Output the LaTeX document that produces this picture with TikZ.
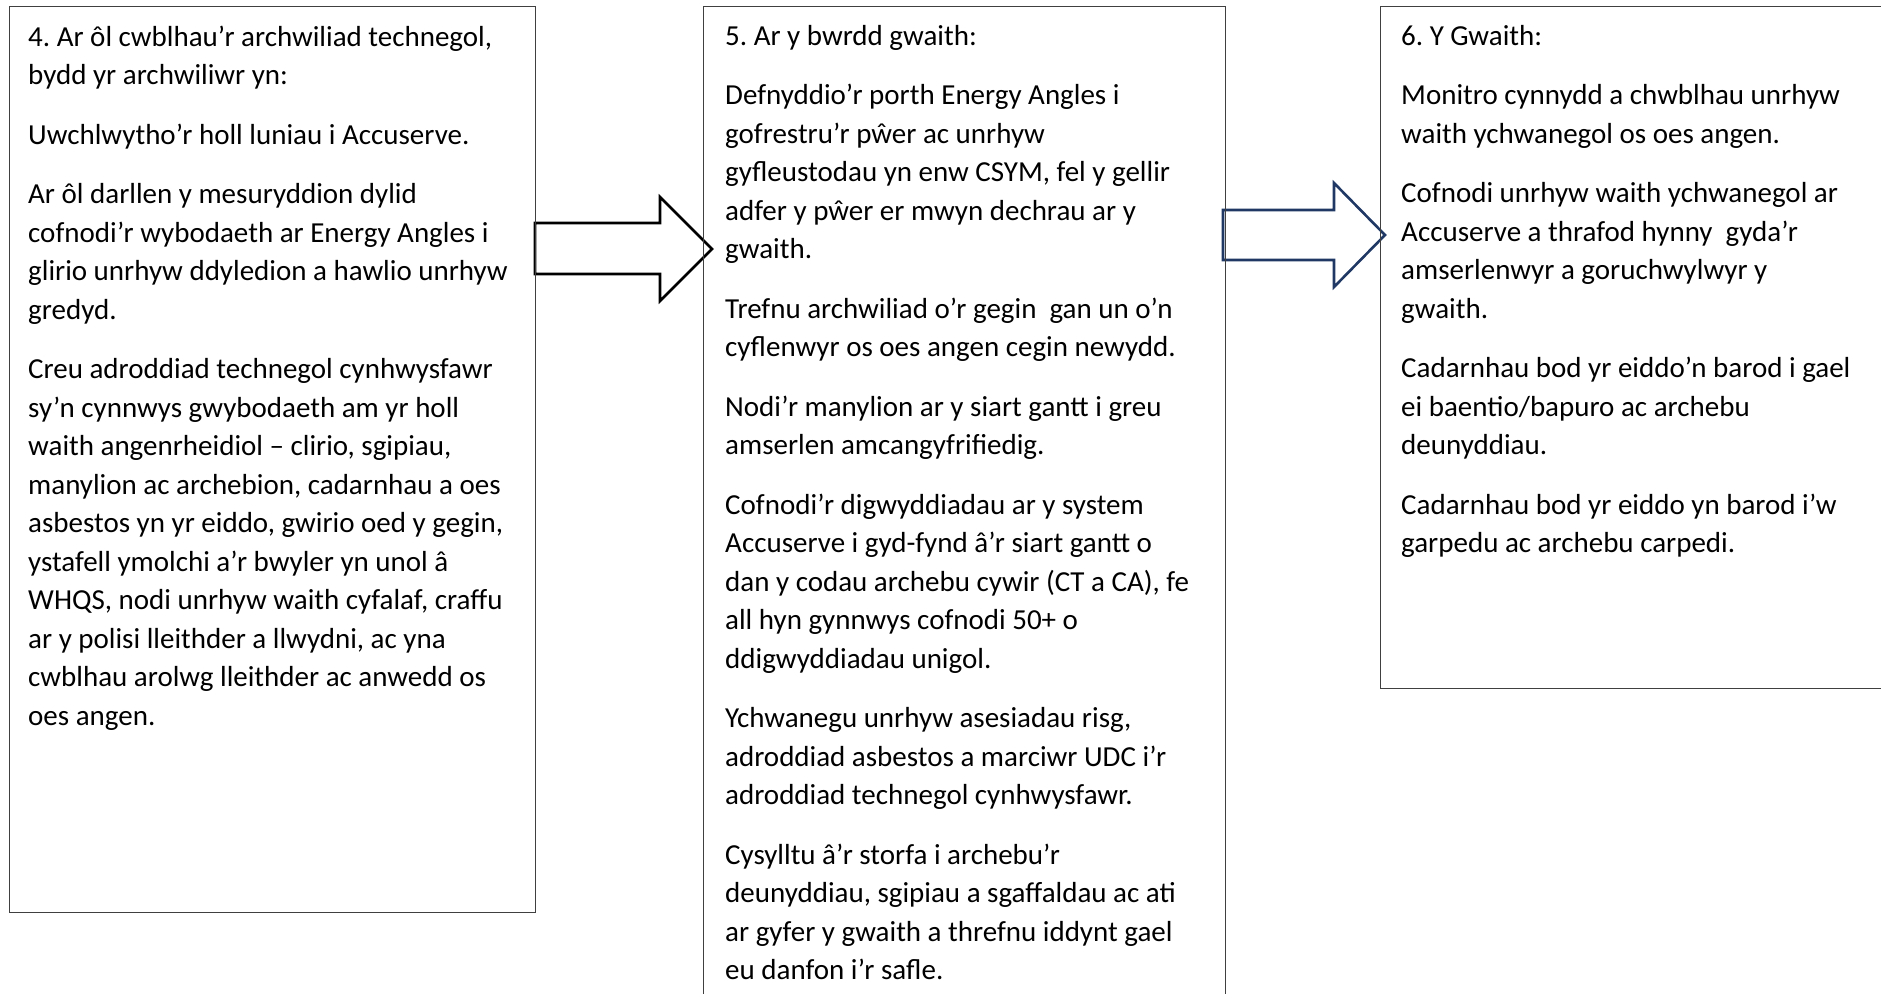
\documentclass[tikz,border=0pt]{standalone}
\usepackage{fontspec}
\setmainfont{Carlito}
\frenchspacing
\definecolor{navy}{HTML}{203864}
\definecolor{boxline}{HTML}{404040}
\tikzset{
  box/.style={draw=boxline, line width=1.4pt, inner sep=0pt, anchor=north west},
  txt/.style={anchor=north west, inner sep=0pt, align=left, text=black,
              font=\fontsize{29}{38.5}\selectfont},
  blockarrow/.style={line width=2.6pt, line join=miter, miter limit=10},
}
\newcommand{\firstline}{\rule{0pt}{30pt}}
\begin{document}
\begin{tikzpicture}[x=1pt, y=-1pt]
\useasboundingbox (0,0) rectangle (1881,993);
% block arrows (behind the boxes)
\draw[blockarrow, draw=black] (535,223) -- (660,223) -- (660,197) -- (712,249) -- (660,301) -- (660,274) -- (535,274) -- cycle;
\draw[blockarrow, draw=navy] (1223,210) -- (1334,210) -- (1334,183) -- (1385,235) -- (1334,287) -- (1334,260) -- (1223,260) -- cycle;
% boxes
\node[box, minimum width=526pt, minimum height=906pt] (b1) at (9,6) {};
\node[box, minimum width=522pt, minimum height=1010pt] (b2) at (703,6) {};
\node[box, minimum width=530pt, minimum height=682pt] (b3) at (1380,6) {};
% texts
\node[txt] (t1) at (28,16) {\firstline 4. Ar ôl cwblhau’r archwiliad technegol,\\
bydd yr archwiliwr yn:\\[21pt]
Uwchlwytho’r holl luniau i Accuserve.\\[21pt]
Ar ôl darllen y mesuryddion dylid\\
cofnodi’r wybodaeth ar Energy Angles i\\
glirio unrhyw ddyledion a hawlio unrhyw\\
gredyd.\\[21pt]
Creu adroddiad technegol cynhwysfawr\\
sy’n cynnwys gwybodaeth am yr holl\\
waith angenrheidiol – clirio, sgipiau,\\
manylion ac archebion, cadarnhau a oes\\
asbestos yn yr eiddo, gwirio oed y gegin,\\
ystafell ymolchi a’r bwyler yn unol â\\
WHQS, nodi unrhyw waith cyfalaf, craffu\\
ar y polisi lleithder a llwydni, ac yna\\
cwblhau arolwg lleithder ac anwedd os\\
oes angen.};
\node[txt] (t2) at (725,15) {\firstline 5. Ar y bwrdd gwaith:\\[21pt]
Defnyddio’r porth Energy Angles i\\
gofrestru’r pŵer ac unrhyw\\
gyfleustodau yn enw CSYM, fel y gellir\\
adfer y pŵer er mwyn dechrau ar y\\
gwaith.\\[21pt]
Trefnu archwiliad o’r gegin\ \ gan un o’n\\
cyflenwyr os oes angen cegin newydd.\\[21pt]
Nodi’r manylion ar y siart gantt i greu\\
amserlen amcangyfrifiedig.\\[21pt]
Cofnodi’r digwyddiadau ar y system\\
Accuserve i gyd-fynd â’r siart gantt o\\
dan y codau archebu cywir (CT a CA), fe\\
all hyn gynnwys cofnodi 50+ o\\
ddigwyddiadau unigol.\\[21pt]
Ychwanegu unrhyw asesiadau risg,\\
adroddiad asbestos a marciwr UDC i’r\\
adroddiad technegol cynhwysfawr.\\[21pt]
Cysylltu â’r storfa i archebu’r\\
deunyddiau, sgipiau a sgaffaldau ac ati\\
ar gyfer y gwaith a threfnu iddynt gael\\
eu danfon i’r safle.};
\node[txt] (t3) at (1401,15) {\firstline 6. Y Gwaith:\\[21pt]
Monitro cynnydd a chwblhau unrhyw\\
waith ychwanegol os oes angen.\\[21pt]
Cofnodi unrhyw waith ychwanegol ar\\
Accuserve a thrafod hynny\ \ gyda’r\\
amserlenwyr a goruchwylwyr y\\
gwaith.\\[21pt]
Cadarnhau bod yr eiddo’n barod i gael\\
ei baentio/bapuro ac archebu\\
deunyddiau.\\[21pt]
Cadarnhau bod yr eiddo yn barod i’w\\
garpedu ac archebu carpedi.};
\end{tikzpicture}
\end{document}
